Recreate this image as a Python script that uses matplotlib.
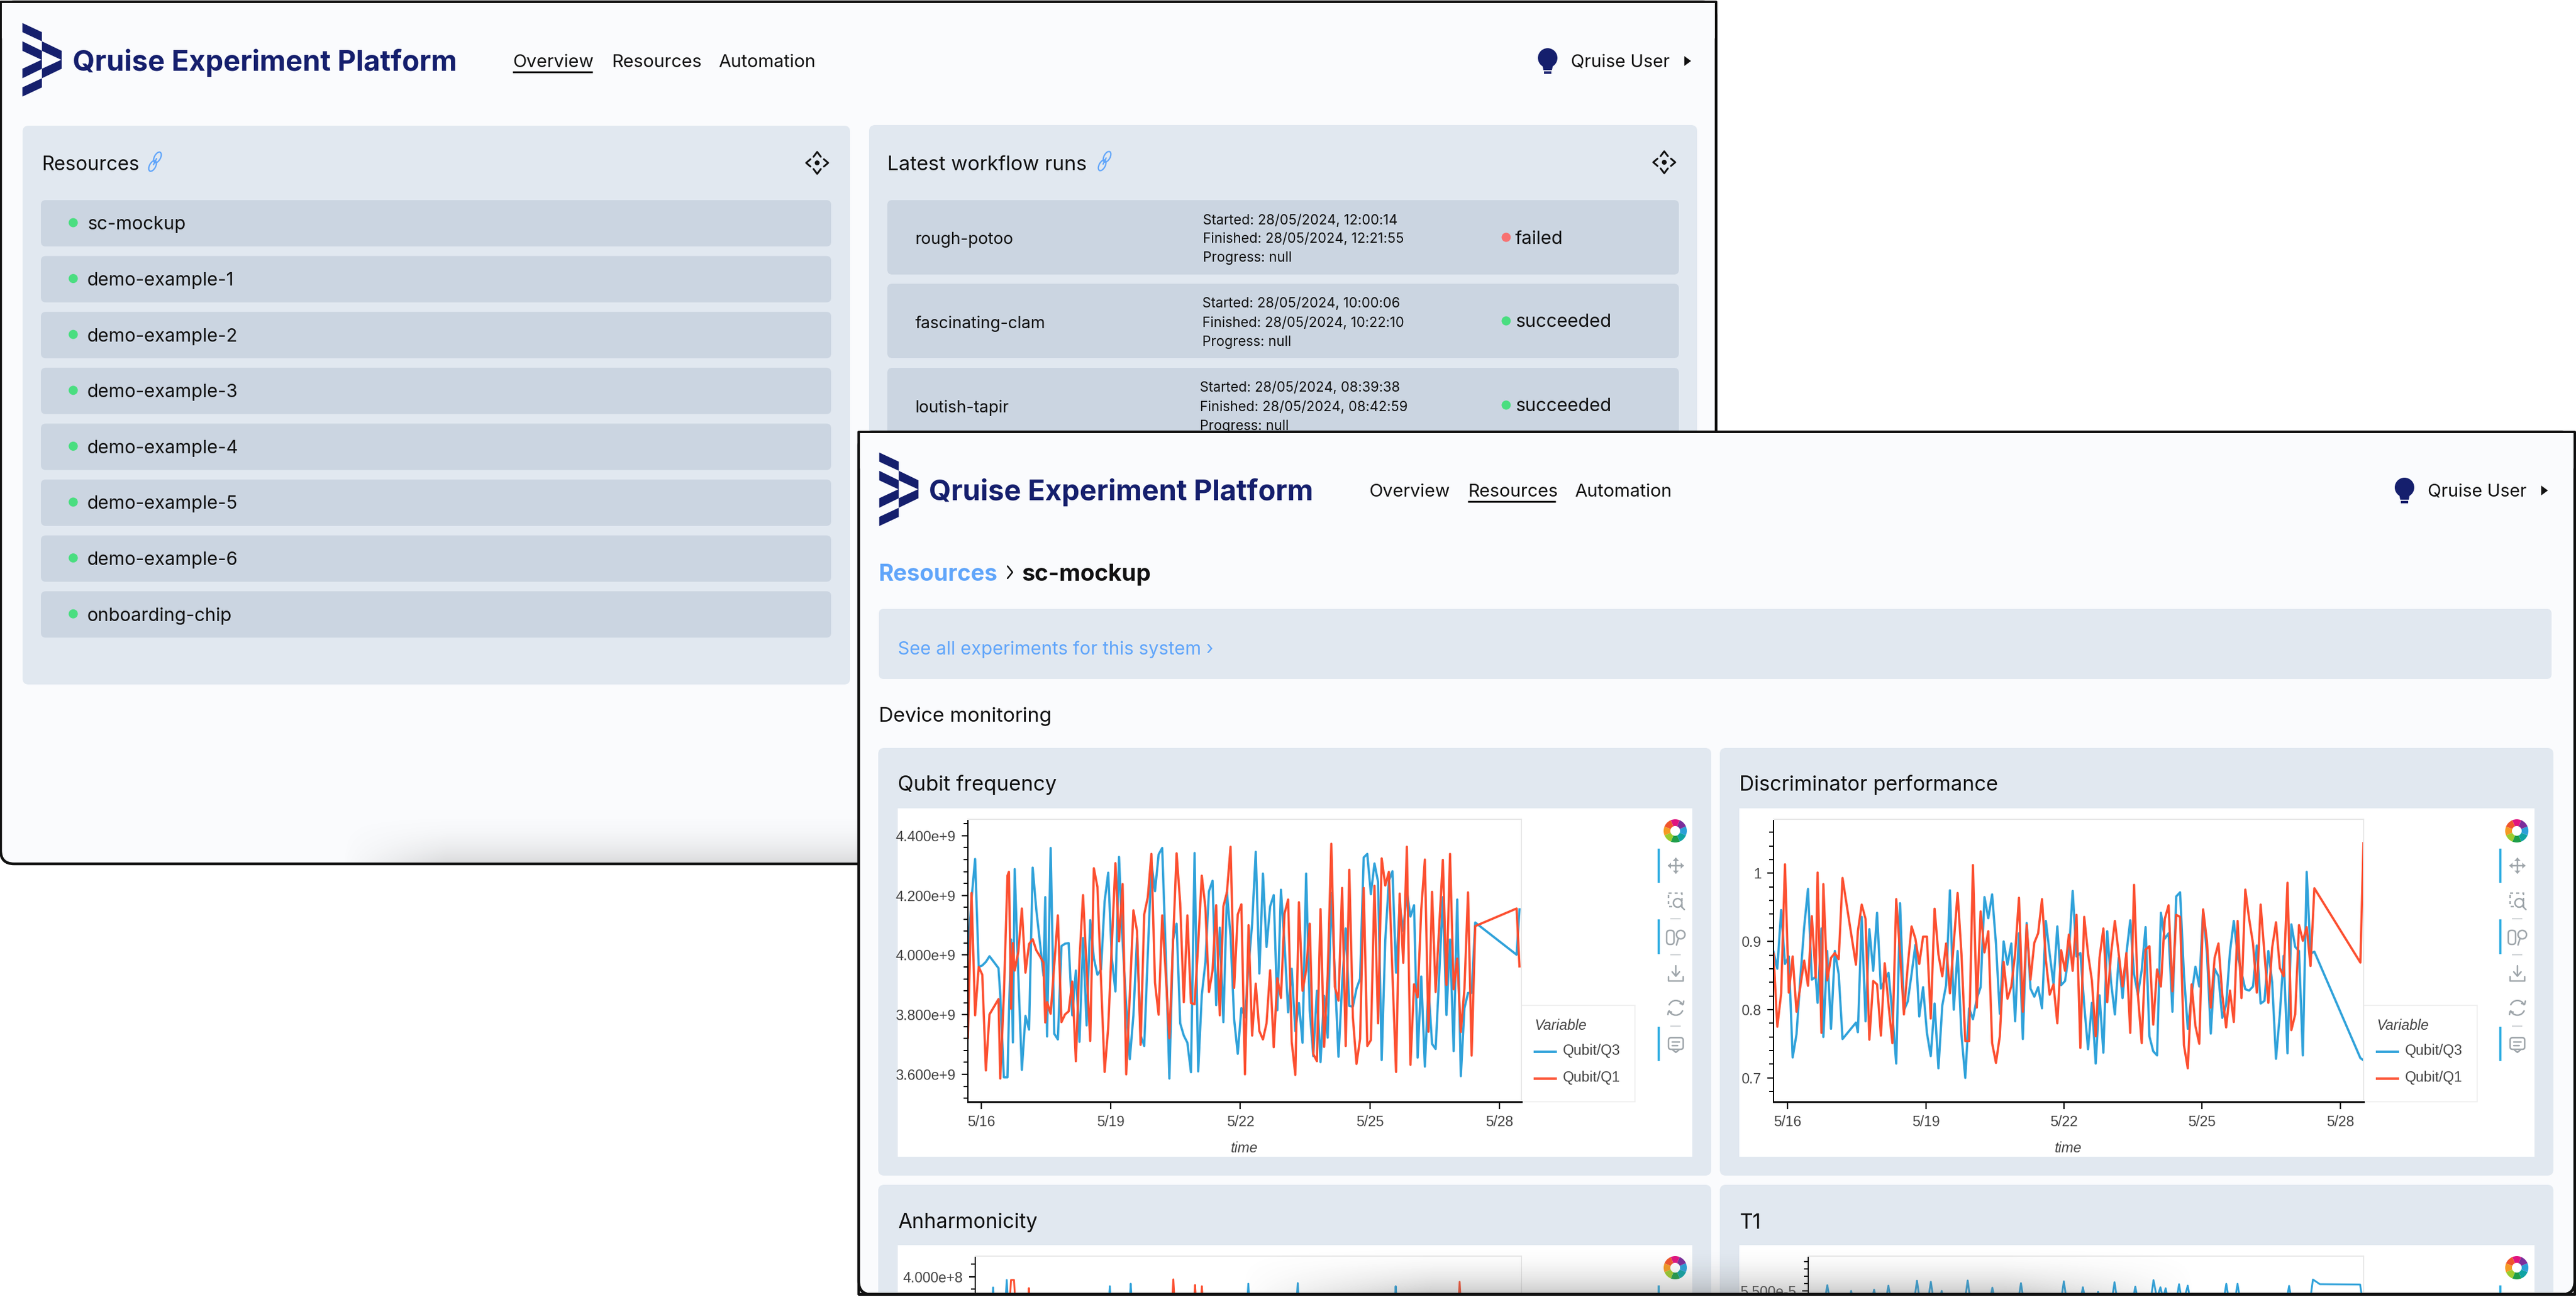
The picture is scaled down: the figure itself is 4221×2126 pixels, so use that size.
#!/usr/bin/env python3
"""Two overlapping screenshots of the Qruise platform with the monitoring charts."""

import matplotlib
matplotlib.use('Agg')
import matplotlib.pyplot as plt
import numpy as np
import pandas as pd
from matplotlib.patches import Arc, Circle, Ellipse, FancyBboxPatch, Polygon, Rectangle, Wedge
from matplotlib.ticker import MultipleLocator

W, H = 4221, 2126

RESOURCE_NAMES = ['sc-mockup', 'demo-example-1', 'demo-example-2', 'demo-example-3',
                  'demo-example-4', 'demo-example-5', 'demo-example-6', 'onboarding-chip']
RUN_NAMES = ['rough-potoo', 'fascinating-clam', 'loutish-tapir']
RUN_STARTED = ['28/05/2024, 12:00:14', '28/05/2024, 10:00:06', '28/05/2024, 08:39:38']
RUN_FINISHED = ['28/05/2024, 12:21:55', '28/05/2024, 10:22:10', '28/05/2024, 08:42:59']
RUN_STATUS = ['failed', 'succeeded', 'succeeded']
NAV_ITEMS = ['Overview', 'Resources', 'Automation']

DATE_TICKS = ['2024-05-16', '2024-05-19', '2024-05-22', '2024-05-25', '2024-05-28']
DATE_LABELS = ['5/16', '5/19', '5/22', '5/25', '5/28']

# hours since the first sample
freq_hours = [0, 2, 4, 6, 8, 10, 12, 17, 18, 20, 22, 22.8, 24, 25,
              26, 28, 30, 32, 34, 36, 38, 40, 42, 43,
              44, 46, 48, 50, 52, 54, 56, 58, 60, 62,
              64, 66, 68, 70, 72, 74, 76, 78, 80, 82,
              84, 86, 88, 90, 92, 94, 96, 98, 100, 102,
              104, 106, 108, 110, 112, 114, 116, 118, 120, 122,
              124, 126, 128, 130, 132, 134, 136, 138, 140, 142,
              144, 146, 148, 150, 152, 154, 156, 158, 160, 162,
              164, 166, 168, 170, 172, 174, 176, 178, 180, 182,
              184, 186, 188, 190, 192, 194, 196, 198, 200, 202,
              204, 206, 208, 210, 212, 214, 216, 218, 220, 222,
              224, 226, 228, 230, 232, 234, 236, 238, 240, 242,
              244, 246, 248, 250, 252, 254, 256, 258, 260, 262,
              264, 266, 268, 270, 272, 274, 276, 278, 280, 282,
              305, 306.6]

# GHz
freq_q3 = [4.003, 4.187, 4.322, 3.960, 3.965, 3.977, 3.996,
           3.956, 3.866, 3.590, 3.590, 3.798, 4.052, 3.707,
           4.288, 3.934, 3.615, 3.796, 3.750, 4.293, 4.153, 4.044, 3.931, 4.194,
           3.727, 4.359, 3.736, 3.717, 4.030, 4.038, 4.040, 3.798, 3.948, 3.709,
           4.057, 3.764, 4.117, 3.989, 3.934, 3.952, 4.180, 4.276, 3.989, 3.878,
           4.329, 4.044, 3.832, 3.651, 3.798, 4.057, 3.730, 3.695, 4.003, 4.310,
           4.214, 4.337, 4.359, 4.003, 3.586, 4.051, 4.105, 3.771, 3.730, 3.706,
           3.607, 4.342, 3.610, 3.866, 3.975, 4.214, 4.249, 3.832, 4.092, 3.775,
           4.211, 4.064, 3.784, 3.669, 3.822, 3.791, 3.962, 4.105, 4.346, 3.938,
           4.273, 4.027, 4.163, 4.201, 3.815, 4.219, 4.037, 3.808, 3.954, 3.745,
           3.839, 3.706, 4.273, 3.815, 3.661, 3.880, 3.641, 3.863, 3.723, 4.208,
           3.934, 3.659, 3.900, 4.089, 3.829, 3.827, 3.887, 3.921, 4.327, 4.339,
           4.204, 4.307, 4.245, 3.648, 4.051, 4.249, 4.281, 3.941, 4.170, 4.081,
           4.214, 4.129, 4.167, 3.656, 3.928, 3.626, 3.893, 3.702, 3.685, 3.934,
           4.194, 3.799, 4.052, 3.678, 4.186, 3.594, 3.822, 3.873, 3.873, 4.109,
           4.001, 4.153]
freq_q1 = [3.723, 4.208, 3.798, 3.960, 3.934, 3.613, 3.801,
           3.852, 3.586, 3.866, 4.266, 4.279, 3.820, 4.040,
           3.948, 4.010, 4.156, 3.941, 4.037, 4.053, 4.016, 3.996, 3.975, 3.774,
           3.842, 3.803, 3.969, 4.133, 3.775, 3.801, 3.811, 3.911, 3.644, 3.982,
           4.201, 3.955, 3.712, 4.291, 4.228, 3.914, 3.608, 3.757, 4.037, 4.308,
           4.046, 4.238, 3.600, 3.866, 4.150, 4.081, 3.699, 4.136, 4.194, 4.339,
           3.907, 3.800, 4.133, 3.934, 3.721, 4.037, 4.341, 4.173, 3.842, 4.133,
           3.839, 3.835, 4.037, 4.266, 4.160, 3.876, 3.948, 4.167, 3.798, 4.163,
           4.211, 4.363, 3.890, 4.136, 4.170, 3.600, 4.100, 3.730, 3.904, 3.745,
           3.717, 3.771, 3.949, 3.691, 3.922, 3.856, 4.139, 4.186, 3.709, 3.598,
           4.177, 3.880, 3.948, 4.105, 3.668, 3.644, 4.154, 3.692, 3.934, 4.373,
           3.893, 3.847, 4.225, 3.695, 4.286, 3.791, 3.635, 3.719, 4.225, 3.695,
           3.715, 4.232, 3.771, 4.324, 4.233, 4.279, 3.934, 3.608, 4.206, 3.974,
           4.363, 3.632, 3.902, 3.858, 4.153, 4.320, 3.743, 4.212, 3.876, 4.098,
           4.319, 3.900, 4.339, 3.885, 3.988, 3.742, 3.887, 4.210, 3.663, 4.097,
           4.156, 3.962]

disc_hours = [0, 2, 4, 6, 8, 10, 12, 14, 16, 18, 20, 22, 23, 25,
              26, 28, 30, 32, 34, 36, 43,
              44, 46, 48, 50, 52, 54, 56, 58, 60, 62,
              64, 66, 68, 70, 72, 74, 76, 78, 80, 82,
              84, 86, 88, 90, 92, 94, 96, 98, 100, 102,
              104, 106, 108, 110, 112, 114, 116, 118, 120, 122,
              124, 126, 128, 130, 132, 134, 136, 138, 140, 142,
              144, 146, 148, 150, 152, 154, 156, 158, 160, 162,
              164, 166, 168, 170, 172, 174, 176, 178, 180, 182,
              184, 186, 188, 190, 192, 194, 196, 198, 200, 202,
              204, 206, 208, 210, 212, 214, 216, 218, 220, 222,
              224, 226, 228, 230, 232, 234, 236, 238, 240, 242,
              244, 246, 248, 250, 252, 254, 256, 258, 260, 262,
              264, 266, 268, 270, 272, 274, 276, 278, 280, 282,
              306, 307.6]
disc_q3 = [0.885, 0.860, 0.946, 0.867, 0.878, 0.730, 0.764, 0.846, 0.921, 0.977, 0.844, 0.848,
           0.810, 0.919,
           0.760, 0.886, 0.772, 0.886, 0.852, 0.757, 0.781,
           0.767, 0.936, 0.783, 0.918, 0.857, 0.942, 0.831, 0.843, 0.854, 0.793,
           0.721, 0.956, 0.799, 0.812, 0.852, 0.895, 0.790, 0.833, 0.766, 0.732,
           0.809, 0.714, 0.806, 0.836, 0.975, 0.800, 0.886, 0.763, 0.700, 0.802,
           0.786, 0.816, 0.833, 0.965, 0.934, 0.969, 0.897, 0.794, 0.900, 0.866,
           0.897, 0.783, 0.912, 0.757, 0.927, 0.831, 0.819, 0.833, 0.802, 0.930,
           0.882, 0.837, 0.922, 0.836, 0.842, 0.882, 0.974, 0.878, 0.883, 0.807,
           0.742, 0.810, 0.721, 0.821, 0.737, 0.915, 0.840, 0.793, 0.876, 0.817,
           0.882, 0.931, 0.852, 0.822, 0.858, 0.921, 0.761, 0.739, 0.733, 0.942,
           0.904, 0.912, 0.797, 0.966, 0.972, 0.852, 0.772, 0.822, 0.863, 0.834,
           0.945, 0.882, 0.765, 0.860, 0.849, 0.788, 0.807, 0.885, 0.930, 0.879,
           0.855, 0.830, 0.828, 0.834, 0.894, 0.809, 0.813, 0.886, 0.840, 0.728,
           0.793, 0.879, 0.736, 0.925, 0.892, 0.886, 0.733, 1.002, 0.882, 0.885,
           0.729, 0.726]
disc_q1 = [0.882, 0.775, 0.824, 1.013, 0.825, 0.878, 0.797, 0.834, 0.872, 0.835, 0.937, 0.847,
           1.001, 0.766,
           0.984, 0.843, 0.876, 0.883, 0.874, 0.993, 0.866,
           0.915, 0.954, 0.933, 0.756, 0.842, 0.837, 0.762, 0.868, 0.807, 0.751,
           0.962, 0.882, 0.793, 0.864, 0.922, 0.904, 0.867, 0.907, 0.907, 0.787,
           0.948, 0.881, 0.849, 0.897, 0.824, 0.897, 0.971, 0.882, 0.754, 0.754,
           1.012, 0.803, 0.944, 0.884, 0.915, 0.751, 0.722, 0.761, 0.870, 0.816,
           0.834, 0.882, 0.964, 0.797, 0.924, 0.844, 0.898, 0.912, 0.962, 0.873,
           0.822, 0.837, 0.780, 0.887, 0.857, 0.910, 0.857, 0.939, 0.744, 0.936,
           0.882, 0.843, 0.761, 0.876, 0.919, 0.811, 0.882, 0.930, 0.882, 0.834,
           0.883, 0.766, 0.983, 0.822, 0.751, 0.888, 0.893, 0.778, 0.859, 0.834,
           0.933, 0.953, 0.827, 0.939, 0.936, 0.748, 0.714, 0.837, 0.776, 0.750,
           0.947, 0.900, 0.803, 0.876, 0.897, 0.822, 0.774, 0.828, 0.782, 0.930,
           0.817, 0.976, 0.933, 0.897, 0.825, 0.954, 0.882, 0.810, 0.891, 0.928,
           0.861, 0.849, 0.986, 0.770, 0.793, 0.924, 0.901, 0.921, 0.864, 0.978,
           0.869, 1.044]

# third row is cut off by the window, only the tops of the spikes show (days after 5/16)
anh_q3_days = [0.03, 0.11, 0.19, 0.35, 0.43, 0.51, 2.77, 2.85, 2.93, 3.26, 3.34, 3.42,
               6.02, 6.1, 6.18, 7.18, 7.26, 7.34, 9.48, 9.56, 9.64]
anh_q3 = [3.0, 3.83, 3.0, 3.0, 3.95, 3.0, 3.0, 3.85, 3.0, 3.0, 3.89, 3.0,
          3.0, 3.89, 3.0, 3.0, 3.90, 3.0, 3.0, 3.85, 3.0]
anh_q1_days = [0.45, 0.53, 0.6, 0.68, 0.87, 0.95, 1.03, 4.26, 4.34, 4.42, 4.77, 4.85, 4.93,
               5.01, 5.09, 10.98, 11.06, 11.14]
anh_q1 = [3.0, 3.95, 3.95, 3.0, 3.0, 3.82, 3.0, 3.0, 3.96, 3.0, 3.0, 3.87, 3.0,
          3.85, 3.0, 3.0, 3.92, 3.0]

t1_days = [0.05, 0.13, 0.21, 0.6, 0.68, 0.76, 1.13, 1.21, 1.29, 1.46, 1.54, 1.62, 2.12, 2.2, 2.28,
           2.44, 2.52, 2.6, 2.69, 2.77, 2.85, 3.29, 3.37, 3.45, 3.86, 3.94, 4.02, 4.52, 4.6, 4.68,
           5.51, 5.59, 5.67, 5.95, 6.03, 6.11, 6.3, 6.38, 6.46, 6.68, 6.76, 6.84, 7.16, 7.24, 7.32,
           7.58, 7.66, 7.74, 7.82, 7.88, 7.94, 8.02, 8.17, 8.25, 8.33, 8.45, 8.53,
           9.26, 9.34, 9.42, 9.52, 9.6, 9.68, 10.71, 10.79, 10.87,
           11.26, 11.34, 11.5, 12.43, 12.5]
t1_q3 = [5.3, 5.578, 5.3, 5.3, 5.5, 5.3, 5.3, 5.517, 5.3, 5.3, 5.572, 5.3, 5.3, 5.639, 5.3,
         5.3, 5.625, 5.3, 5.3, 5.5, 5.3, 5.3, 5.642, 5.3, 5.3, 5.544, 5.3, 5.3, 5.606, 5.3,
         5.3, 5.631, 5.3, 5.3, 5.55, 5.3, 5.3, 5.489, 5.3, 5.3, 5.619, 5.3, 5.3, 5.558, 5.3,
         5.3, 5.647, 5.4, 5.55, 5.4, 5.536, 5.3, 5.3, 5.592, 5.3, 5.572, 5.3,
         5.3, 5.597, 5.3, 5.3, 5.597, 5.3, 5.3, 5.569, 5.3,
         5.3, 5.656, 5.592, 5.588, 5.3]

BG = '#fafbfd'
CARD = '#e1e8f0'
ROW = '#cbd5e1'
NAVY = '#151f6d'
LINK = '#60a5fa'
GREEN = '#4ade80'
RED = '#f87171'
Q3_COLOR = '#30a2da'
Q1_COLOR = '#fc4f30'
TOOL = '#9ea5aa'
TOOL_ACTIVE = '#26aae1'

START = pd.Timestamp('2024-05-15 16:34')
XLIM = (pd.Timestamp('2024-05-15 16:34'), pd.Timestamp('2024-05-28 12:15'))
CHART_FONT = 23.5


def pt(px):
    return px * 0.72


fig = plt.figure(figsize=(W / 100, H / 100), dpi=100, facecolor='white')
ui = fig.add_axes([0, 0, 1, 1], zorder=0)
ui.set_xlim(0, W)
ui.set_ylim(H, 0)
ui.axis('off')


def px_axes(left, top, right, bottom, zorder=1):
    return fig.add_axes([left / W, 1 - bottom / H, (right - left) / W, (bottom - top) / H],
                        zorder=zorder)


def box(x0, y0, x1, y1, color, r=8, z=1, ax=ui, **kw):
    p = FancyBboxPatch((x0, y0), x1 - x0, y1 - y0, boxstyle=f'round,pad=0,rounding_size={r}',
                       facecolor=color, edgecolor=kw.pop('edgecolor', 'none'),
                       linewidth=kw.pop('linewidth', 0), zorder=z, **kw)
    ax.add_patch(p)
    return p


def label(x, y, s, px=30, color='#111111', z=3, ax=ui, family='Inter', **kw):
    kw.setdefault('va', 'center')
    if family == 'Inter':
        y = y + 2.5
    ax.text(x, y, s, fontsize=pt(px), color=color, zorder=z, family=family, **kw)


def stroke(xs, ys, color, px=2.5, z=3, ax=ui, **kw):
    ax.plot(xs, ys, color=color, lw=pt(px), zorder=z, solid_capstyle=kw.pop('cap', 'round'), **kw)


def dot(x, y, color, r=7.5, z=3):
    ui.add_patch(Circle((x, y), r, facecolor=color, edgecolor='none', zorder=z))


def window(x0, y0, x1, y1, z):
    # square top corners, rounded bottom ones
    box(x0, y0, x1, y1, BG, r=22, z=z, edgecolor='#111111', linewidth=pt(4.5))
    ui.add_patch(Rectangle((x0, y0), x1 - x0, 60, facecolor=BG, edgecolor='none', zorder=z))
    stroke([x0, x0, x1, x1], [y0 + 60, y0, y0, y0 + 60], '#111111', px=4, z=z, cap='butt')


def shadow(ax, x0, x1, y0, y1, strength, z, fade_right=True):
    # soft grey glow, strongest along the bottom
    fade_y = np.linspace(0, 1, 60) ** 2
    fade_x = np.clip(np.linspace(0, 5, 200), 0, 1)
    if fade_right:
        fade_x = np.minimum(fade_x, fade_x[::-1])
    img = np.zeros((60, 200, 4))
    img[..., :3] = 0.45
    img[..., 3] = strength * np.outer(fade_y, fade_x)
    ax.imshow(img, extent=(x0, x1, y1, y0), aspect='auto', zorder=z, interpolation='bilinear')
    ax.set_xlim(0, W)
    ax.set_ylim(H, 0)


def logo(dx, dy, z):
    xl, xm, xr = 36.7 + dx, 68.7 + dx, 101 + dx
    pieces = [[(xl, 37.7), (xm, 52.7), (xm, 67.7), (xl, 52.7)],
              [(xl, 67.7), (xm, 83.3), (xm, 98.3), (xl, 83.3)],
              [(xm, 67.7), (xr, 83.3), (xr, 98.3), (xm, 83.3)]]
    for piece in pieces:
        upper = [(x, y + dy) for x, y in piece]
        lower = [(x, 196 - y + dy) for x, y in piece]
        ui.add_patch(Polygon(upper, closed=True, facecolor=NAVY, edgecolor='none', zorder=z))
        ui.add_patch(Polygon(lower, closed=True, facecolor=NAVY, edgecolor='none', zorder=z))


def bulb(x, y, z):
    ui.add_patch(Circle((x, y - 5), 16, facecolor=NAVY, edgecolor='none', zorder=z))
    ui.add_patch(Polygon([(x - 9, y + 5), (x + 9, y + 5), (x + 7, y + 15), (x - 7, y + 15)],
                         facecolor=NAVY, edgecolor='none', zorder=z))
    ui.add_patch(Rectangle((x - 6, y + 17), 12, 4, facecolor=NAVY, edgecolor='none', zorder=z))


def header(dx, dy, active, nav_x, text_x, z):
    logo(dx, dy, z)
    label(text_x, 100 + dy, 'Qruise Experiment Platform', px=46.7, color=NAVY, fontweight='bold', z=z)
    for name, (x0, x1) in zip(NAV_ITEMS, nav_x):
        label(x0, 100 + dy, name, px=29.5, z=z)
        if name == active:
            stroke([x0, x1], [118 + dy, 118 + dy], '#111111', px=3, z=z, cap='butt')
    bulb(2536 + dx, 100 + dy, z)
    label(2574 + dx, 100 + dy, 'Qruise User', px=29, z=z)
    ui.add_patch(Polygon([(2760 + dx, 92 + dy), (2771 + dx, 100 + dy), (2760 + dx, 108 + dy)],
                         facecolor='#111111', edgecolor='none', zorder=z))


def link_icon(x, y, z=3):
    for ox, oy in ((-4, 7), (4, -7)):
        ui.add_patch(Ellipse((x + ox, y + oy), 10, 19, angle=28, facecolor='none',
                             edgecolor=LINK, lw=pt(2.2), zorder=z))
    stroke([x - 2.5, x + 2.5], [y + 5, y - 5], LINK, px=2.2, z=z)


def move_icon(x, y, z=3):
    stroke([x - 6, x, x + 6], [y - 10, y - 18, y - 10], '#111111', px=3, z=z)
    stroke([x - 6, x, x + 6], [y + 10, y + 18, y + 10], '#111111', px=3, z=z)
    stroke([x - 11, x - 18, x - 11], [y - 6, y, y + 6], '#111111', px=3, z=z)
    stroke([x + 11, x + 18, x + 11], [y - 6, y, y + 6], '#111111', px=3, z=z)
    ui.add_patch(Circle((x, y), 4, facecolor='#111111', edgecolor='none', zorder=z))


def color_wheel(x, y, z):
    colors = ['#1f9e4a', '#0fa3a3', '#2a9fd8', '#7b2d9b', '#e0147f', '#f0552d', '#f59a23', '#9ccb2d']
    for i, c in enumerate(colors):
        ui.add_patch(Wedge((x, y), 19, 90 - 45 * (i + 1) + 22, 90 - 45 * i + 22, width=11,
                           facecolor=c, edgecolor='none', zorder=z))


def toolbar(x0, y0, z):
    # x0, y0: top left of the white plot box
    color_wheel(x0 + 1274, y0 + 37, z)
    bar = x0 + 1247
    for t, b in ((66, 122), (182, 239), (358, 414)):
        stroke([bar, bar], [y0 + t, y0 + b], TOOL_ACTIVE, px=3.5, z=z, cap='butt')
    cx = x0 + 1275
    for yy in (181, 240, 357):
        stroke([cx - 9, cx + 8], [y0 + yy, y0 + yy], '#cfd3d6', px=2, z=z, cap='butt')
    # move
    yy = y0 + 94
    stroke([cx - 12, cx + 12], [yy, yy], TOOL, px=2.5, z=z)
    stroke([cx, cx], [yy - 12, yy + 12], TOOL, px=2.5, z=z)
    for sx, sy in ((1, 0), (-1, 0), (0, 1), (0, -1)):
        tip = (cx + sx * 13, yy + sy * 13)
        ui.add_patch(Polygon([tip, (cx + sx * 8 + sy * 5, yy + sy * 8 + sx * 5),
                              (cx + sx * 8 - sy * 5, yy + sy * 8 - sx * 5)],
                             facecolor=TOOL, edgecolor='none', zorder=z))
    # box zoom
    yy = y0 + 152
    ui.add_patch(Rectangle((cx - 12, yy - 13), 22, 22, facecolor='none', edgecolor=TOOL,
                           lw=pt(2.5), ls=(0, (2, 2)), zorder=z))
    ui.add_patch(Circle((cx + 3, yy + 3), 7, facecolor='white', edgecolor=TOOL, lw=pt(2.5), zorder=z))
    stroke([cx + 8, cx + 14], [yy + 8, yy + 14], TOOL, px=2.5, z=z)
    # wheel zoom
    yy = y0 + 210
    box(cx - 15, yy - 10, cx - 3, yy + 13, 'white', r=5, z=z, edgecolor=TOOL, linewidth=pt(2.5))
    ui.add_patch(Circle((cx + 8, yy - 3), 7, facecolor='white', edgecolor=TOOL, lw=pt(2.5), zorder=z))
    stroke([cx + 4, cx + 1], [yy + 4, yy + 14], TOOL, px=2.5, z=z)
    # save
    yy = y0 + 271
    stroke([cx, cx], [yy - 13, yy + 4], TOOL, px=2.5, z=z)
    stroke([cx - 6, cx, cx + 6], [yy - 3, yy + 4, yy - 3], TOOL, px=2.5, z=z)
    stroke([cx - 12, cx - 12, cx + 12, cx + 12], [yy + 5, yy + 12, yy + 12, yy + 5], TOOL, px=2.5, z=z)
    # reset
    yy = y0 + 327
    ui.add_patch(Arc((cx, yy), 24, 24, theta1=200, theta2=340, edgecolor=TOOL, lw=pt(2.5), zorder=z))
    ui.add_patch(Arc((cx, yy), 24, 24, theta1=20, theta2=160, edgecolor=TOOL, lw=pt(2.5), zorder=z))
    stroke([cx + 7, cx + 12, cx + 13], [yy - 7, yy - 6, yy - 11], TOOL, px=2.5, z=z)
    stroke([cx - 7, cx - 12, cx - 13], [yy + 7, yy + 6, yy + 11], TOOL, px=2.5, z=z)
    # hover
    yy = y0 + 387
    box(cx - 12, yy - 11, cx + 12, yy + 8, 'none', r=4, z=z, edgecolor=TOOL, linewidth=pt(2.5))
    stroke([cx - 5, cx, cx + 5], [yy + 9, yy + 13, yy + 9], TOOL, px=2.5, z=z)
    stroke([cx - 6, cx + 6], [yy - 4, yy - 4], TOOL, px=2.5, z=z)
    stroke([cx - 6, cx + 3], [yy + 2, yy + 2], TOOL, px=2.5, z=z)


def legend_box(left, z):
    ui.add_patch(Rectangle((left, 1648), 186, 158, facecolor='white', edgecolor='#f0f0f0',
                           lw=pt(2), zorder=z))
    label(left + 22, 1681, 'Variable', px=CHART_FONT, color='#444444', style='italic',
          family='Liberation Sans', z=z)
    for yy, name, c in ((1724, 'Qubit/Q3', Q3_COLOR), (1768, 'Qubit/Q1', Q1_COLOR)):
        stroke([left + 20, left + 58], [yy, yy], c, px=4, z=z, cap='butt')
        label(left + 68, yy - 1, name, px=CHART_FONT, color='#444444', family='Liberation Sans', z=z)


def style_axes(ax, major, major_labels, minor_step, ylim, full=True):
    ax.set_facecolor('white')
    ax.set_xlim(*XLIM)
    ax.set_ylim(*ylim)
    ax.set_yticks(major)
    ax.set_yticklabels(major_labels, fontsize=pt(CHART_FONT), color='#444444', family='Liberation Sans')
    ax.yaxis.set_minor_locator(MultipleLocator(minor_step))
    ax.tick_params(axis='y', which='major', length=pt(10), width=pt(2.2), pad=pt(10))
    ax.tick_params(axis='y', which='minor', length=pt(7), width=pt(2))
    for side in ('top', 'right'):
        ax.spines[side].set_color('#e8e8e8')
        ax.spines[side].set_linewidth(pt(2))
    ax.spines['left'].set_linewidth(pt(2))
    ax.spines['bottom'].set_linewidth(pt(3))
    if full:
        ax.set_xticks(pd.to_datetime(DATE_TICKS))
        ax.set_xticklabels(DATE_LABELS, fontsize=pt(CHART_FONT), color='#444444', family='Liberation Sans')
        ax.tick_params(axis='x', which='major', length=pt(12), width=pt(2.2), pad=pt(10))
        ax.set_xlabel('time', fontsize=pt(CHART_FONT), color='#444444', style='italic',
                      family='Liberation Sans', labelpad=pt(20))
    else:
        ax.set_xticks([])


def series_times(hours):
    return START + pd.to_timedelta(hours, unit='h')


def day_times(days):
    return pd.Timestamp('2024-05-16') + pd.to_timedelta(days, unit='D')


# ---------- back window ----------
window(1, 3, 2812, 1416, 0.5)
shadow(ui, 560, 1407, 1330, 1413, 0.22, 0.6, fade_right=False)
header(0, 0, 'Overview', [(840, 971), (1002, 1145), (1177, 1337)], 119, 1)

box(37, 206, 1393, 1122, CARD, r=10)
label(68, 268, 'Resources', px=32)
link_icon(254, 265)
move_icon(1339, 267)
for i, name in enumerate(RESOURCE_NAMES):
    y0 = 328 + 91.6 * i
    box(67, y0, 1362, y0 + 76, ROW, r=8, z=2)
    dot(120, y0 + 37, GREEN)
    label(143, y0 + 38, name, px=30)

box(1424, 205, 2781, 760, CARD, r=10)
label(1454, 268, 'Latest workflow runs', px=33)
link_icon(1810, 264)
move_icon(2727, 266)
run_tops = [328, 465, 603]
run_text_x = [1971, 1970, 1966]
for i, name in enumerate(RUN_NAMES):
    y0 = run_tops[i]
    box(1454, y0, 2751, y0 + 122, ROW, r=8, z=2)
    label(1500, y0 + 63, name, px=27)
    for j, line in enumerate((f'Started: {RUN_STARTED[i]}', f'Finished: {RUN_FINISHED[i]}',
                              'Progress: null')):
        label(run_text_x[i], y0 + 31 + j * 31, line, px=22.5)
    dot(2468, y0 + 61, RED if RUN_STATUS[i] == 'failed' else GREEN)
    label(2483, y0 + 61, RUN_STATUS[i], px=30)

# ---------- front window ----------
window(1407, 708, 4219, 2122, 10)
header(1404, 704, 'Resources', [(2243, 2375), (2405, 2549), (2580, 2742)], 1522, 11)

label(1440, 940, 'Resources', px=37.5, color=LINK, fontweight='bold', z=11)
stroke([1651, 1659, 1651], [928, 938, 948], '#111111', px=2.5, z=11)
label(1675, 940, 'sc-mockup', px=38, fontweight='bold', z=11)

box(1440, 998, 4181, 1113, CARD, r=8, z=11)
label(1471, 1062, 'See all experiments for this system ›', px=30, color=LINK, z=12)
label(1440, 1172, 'Device monitoring', px=33, z=11)

box(1439, 1226, 2804, 1927, CARD, r=10, z=11)
box(2818, 1226, 4184, 1927, CARD, r=10, z=11)
box(1439, 1942, 2804, 2300, CARD, r=10, z=11)
box(2818, 1942, 4184, 2300, CARD, r=10, z=11)

label(1471, 1284, 'Qubit frequency', px=34, z=12)
label(2850, 1284, 'Discriminator performance', px=33.5, z=12)
label(1471, 2002, 'Anharmonicity', px=33.5, z=12)
label(2850, 2002, 'T1', px=33.5, z=12)

for x0, x1 in ((1471, 2773), (2850, 4153)):
    ui.add_patch(Rectangle((x0, 1325), x1 - x0, 571, facecolor='white', edgecolor='none', zorder=12))
    ui.add_patch(Rectangle((x0, 2041), x1 - x0, 300, facecolor='white', edgecolor='none', zorder=12))
    toolbar(x0, 1325, 13)
    toolbar(x0, 2041, 13)

legend_box(2493, 13)
legend_box(3873, 13)

# ---------- charts ----------
ax_freq = px_axes(1586, 1343, 2493, 1806)
ax_freq.plot(series_times(freq_hours), np.array(freq_q3) * 1e9, color=Q3_COLOR, lw=pt(3.7))
ax_freq.plot(series_times(freq_hours), np.array(freq_q1) * 1e9, color=Q1_COLOR, lw=pt(3.7))
style_axes(ax_freq, [3.6e9, 3.8e9, 4.0e9, 4.2e9, 4.4e9],
           ['3.600e+9', '3.800e+9', '4.000e+9', '4.200e+9', '4.400e+9'], 0.04e9, (3.508e9, 4.455e9))

ax_disc = px_axes(2906, 1343, 3873, 1806)
ax_disc.plot(series_times(disc_hours), disc_q3, color=Q3_COLOR, lw=pt(3.7))
ax_disc.plot(series_times(disc_hours), disc_q1, color=Q1_COLOR, lw=pt(3.7))
style_axes(ax_disc, [0.7, 0.8, 0.9, 1.0], ['0.7', '0.8', '0.9', '1'], 0.02, (0.665, 1.079))

# these two run past the bottom of the screenshot, the window frame is drawn over them
ax_anh = px_axes(1598, 2059, 2493, 2135)
ax_anh.plot(day_times(anh_q3_days), np.array(anh_q3) * 1e8, color=Q3_COLOR, lw=pt(3))
ax_anh.plot(day_times(anh_q1_days), np.array(anh_q1) * 1e8, color=Q1_COLOR, lw=pt(3))
style_axes(ax_anh, [4e8], ['4.000e+8'], 0.2e8, (3.59e8, 4.33e8), full=False)

ax_t1 = px_axes(2963, 2059, 3873, 2135)
ax_t1.plot(day_times(t1_days), np.array(t1_q3) * 1e-5, color=Q3_COLOR, lw=pt(3))
style_axes(ax_t1, [5.5e-5], ['5.500e-5'], 0.1e-5, (5.342e-5, 5.975e-5), full=False)

# ---------- things on top of the cut-off row ----------
top = fig.add_axes([0, 0, 1, 1], zorder=5)
top.set_xlim(0, W)
top.set_ylim(H, 0)
top.axis('off')
top.patch.set_alpha(0)
shadow(top, 2030, 3600, 2040, 2119, 0.35, 1)
top.add_patch(Rectangle((0, 2123), W, 10, facecolor='white', edgecolor='none', zorder=2))
stroke([1407, 4219], [2121, 2121], '#111111', px=5, z=3, ax=top)
stroke([1407, 1407], [2060, 2121], '#111111', px=4, z=3, ax=top)
stroke([4219, 4219], [2060, 2121], '#111111', px=4, z=3, ax=top)

fig.savefig('out.png', dpi=100, facecolor='white')
